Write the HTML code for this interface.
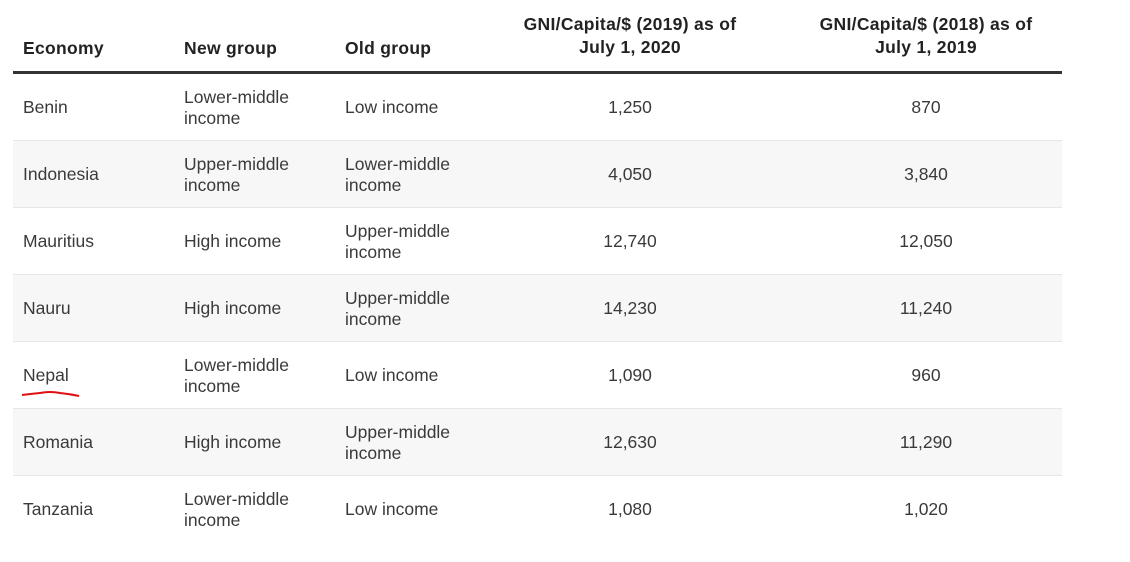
<!DOCTYPE html>
<html><head><style>
body{margin:0;width:1130px;height:562px;background:#fff;font-family:"Liberation Sans",sans-serif;color:#333;position:relative;overflow:hidden}
.h{position:absolute;font-weight:bold;font-size:17.5px;color:#222;line-height:23px;letter-spacing:0.3px}
.c{position:absolute;font-size:17.5px;line-height:21px;color:#3a3a3a}
.row{position:absolute;left:13px;width:1049px;height:66px;border-bottom:1px solid #e6e6e6}
.g{background:#f7f7f7}
.ctr{text-align:center;width:300px}
</style></head><body>
<div class="h" style="left:23px;top:37px">Economy</div>
<div class="h" style="left:184px;top:37px">New group</div>
<div class="h" style="left:345px;top:37px">Old group</div>
<div class="h ctr" style="left:480px;top:13px">GNI/Capita/$ (2019) as of<br>July 1, 2020</div>
<div class="h ctr" style="left:776px;top:13px">GNI/Capita/$ (2018) as of<br>July 1, 2019</div>
<div style="position:absolute;left:13px;top:71px;width:1049px;height:3px;background:#333"></div>

<div class="row" style="top:74px"></div>
<div class="row g" style="top:141px"></div>
<div class="row" style="top:208px"></div>
<div class="row g" style="top:275px"></div>
<div class="row" style="top:342px"></div>
<div class="row g" style="top:409px"></div>
<div class="row" style="top:476px;border:none"></div>

<div class="c" style="left:23px;top:97px">Benin</div>
<div class="c" style="left:184px;top:87px">Lower-middle<br>income</div>
<div class="c" style="left:345px;top:97px">Low income</div>
<div class="c ctr" style="left:480px;top:97px">1,250</div>
<div class="c ctr" style="left:776px;top:97px">870</div>

<div class="c" style="left:23px;top:164px">Indonesia</div>
<div class="c" style="left:184px;top:154px">Upper-middle<br>income</div>
<div class="c" style="left:345px;top:154px">Lower-middle<br>income</div>
<div class="c ctr" style="left:480px;top:164px">4,050</div>
<div class="c ctr" style="left:776px;top:164px">3,840</div>

<div class="c" style="left:23px;top:231px">Mauritius</div>
<div class="c" style="left:184px;top:231px">High income</div>
<div class="c" style="left:345px;top:221px">Upper-middle<br>income</div>
<div class="c ctr" style="left:480px;top:231px">12,740</div>
<div class="c ctr" style="left:776px;top:231px">12,050</div>

<div class="c" style="left:23px;top:298px">Nauru</div>
<div class="c" style="left:184px;top:298px">High income</div>
<div class="c" style="left:345px;top:288px">Upper-middle<br>income</div>
<div class="c ctr" style="left:480px;top:298px">14,230</div>
<div class="c ctr" style="left:776px;top:298px">11,240</div>

<div class="c" style="left:23px;top:365px">Nepal</div>
<div class="c" style="left:184px;top:355px">Lower-middle<br>income</div>
<div class="c" style="left:345px;top:365px">Low income</div>
<div class="c ctr" style="left:480px;top:365px">1,090</div>
<div class="c ctr" style="left:776px;top:365px">960</div>
<svg style="position:absolute;left:20px;top:390px" width="62" height="10"><path d="M2 5 Q10 4 20 3 Q30 1 40 3 Q50 4 59 6" stroke="#e01010" stroke-width="2" fill="none"/></svg>

<div class="c" style="left:23px;top:432px">Romania</div>
<div class="c" style="left:184px;top:432px">High income</div>
<div class="c" style="left:345px;top:422px">Upper-middle<br>income</div>
<div class="c ctr" style="left:480px;top:432px">12,630</div>
<div class="c ctr" style="left:776px;top:432px">11,290</div>

<div class="c" style="left:23px;top:499px">Tanzania</div>
<div class="c" style="left:184px;top:489px">Lower-middle<br>income</div>
<div class="c" style="left:345px;top:499px">Low income</div>
<div class="c ctr" style="left:480px;top:499px">1,080</div>
<div class="c ctr" style="left:776px;top:499px">1,020</div>
</body></html>
